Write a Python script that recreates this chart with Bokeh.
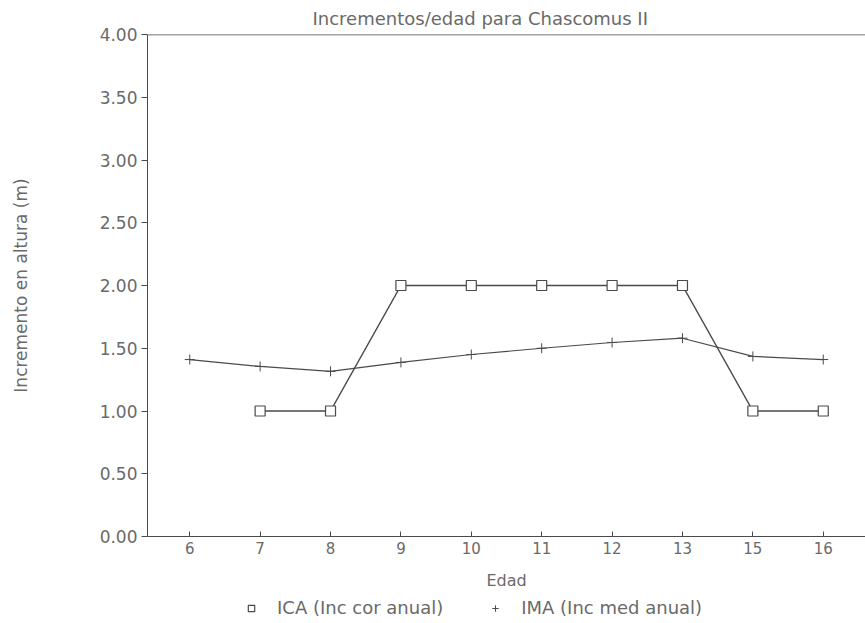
from bokeh.plotting import figure
from bokeh.layouts import column
from bokeh.models import FactorRange, Range1d, FixedTicker, Legend, LegendItem, Span, NumeralTickFormatter
from bokeh.embed import file_html
from bokeh.resources import INLINE

edades = ["6", "7", "8", "9", "10", "11", "12", "13", "15", "16"]
ica_edades = ["7", "8", "9", "10", "11", "12", "13", "15", "16"]
ica = [1.0, 1.0, 2.0, 2.0, 2.0, 2.0, 2.0, 1.0, 1.0]
ima = [1.41, 1.355, 1.316, 1.387, 1.45, 1.50, 1.546, 1.58, 1.435, 1.41]
y_ticks = [0, 0.5, 1.0, 1.5, 2.0, 2.5, 3.0, 3.5, 4.0]

TXT = "#6a6a6a"
LINE = "#4a4a4a"
FONT = "DejaVu Sans"

p = figure(
    frame_width=718, frame_height=502,
    x_range=FactorRange(factors=edades, range_padding=0.02, range_padding_units="percent"),
    y_range=Range1d(0, 4),
    output_backend="svg", toolbar_location=None,
    title="Incrementos/edad para Chascomus II",
    min_border_left=147, min_border_right=0, min_border_top=0, min_border_bottom=60,
)
p.background_fill_color = "white"
p.border_fill_color = "white"
p.outline_line_color = None
p.xgrid.visible = False
p.ygrid.visible = False

p.title.text_font = FONT
p.title.text_font_size = "18px"
p.title.text_font_style = "normal"
p.title.text_color = TXT
p.title.align = "left"
p.title.offset = 165
p.title.standoff = 11

# top border line
p.add_layout(Span(location=4, dimension="width", line_color=LINE, line_width=1.5))

# y axis
p.yaxis.ticker = FixedTicker(ticks=y_ticks)
p.yaxis.formatter = NumeralTickFormatter(format="0.00")
p.yaxis.minor_tick_line_color = None
p.yaxis.major_tick_out = 6
p.yaxis.major_tick_in = 0
p.yaxis.axis_line_color = LINE
p.yaxis.major_tick_line_color = LINE
p.yaxis.major_label_text_font = FONT
p.yaxis.major_label_text_font_size = "17px"
p.yaxis.major_label_text_color = TXT
p.yaxis.major_label_standoff = 4
p.yaxis.axis_label = "Incremento en altura (m)"
p.yaxis.axis_label_text_font = FONT
p.yaxis.axis_label_text_font_size = "17px"
p.yaxis.axis_label_text_font_style = "normal"
p.yaxis.axis_label_text_color = TXT
p.yaxis.axis_label_standoff = 66

# x axis
p.xaxis.axis_line_color = LINE
p.xaxis.major_tick_line_color = LINE
p.xaxis.major_tick_in = 5
p.xaxis.major_tick_out = 0
p.xaxis.major_label_text_font = FONT
p.xaxis.major_label_text_font_size = "15px"
p.xaxis.major_label_text_color = TXT
p.xaxis.major_label_standoff = 5
p.xaxis.axis_label = "Edad"
p.xaxis.axis_label_text_font = FONT
p.xaxis.axis_label_text_font_size = "16px"
p.xaxis.axis_label_text_font_style = "normal"
p.xaxis.axis_label_text_color = TXT
p.xaxis.axis_label_standoff = 14

p.line(ica_edades, ica, line_color=LINE, line_width=1.5)
p.scatter(ica_edades, ica, marker="square", size=10, fill_color="white",
          line_color=LINE, line_width=1.2)
p.line(edades, ima, line_color=LINE, line_width=1.2)
p.scatter(edades, ima, marker="cross", size=10, line_color=LINE, line_width=1)

# legend strip below the chart (its renderers sit outside the visible range)
pl = figure(
    frame_width=718, frame_height=25,
    x_range=Range1d(0, 1), y_range=Range1d(0, 1),
    x_axis_type=None, y_axis_type=None,
    output_backend="svg", toolbar_location=None,
    min_border_left=147, min_border_right=0, min_border_top=0, min_border_bottom=0,
)
pl.outline_line_color = None
pl.background_fill_color = "white"
pl.border_fill_color = "white"
lg_ica = pl.scatter(x=[-10], y=[-10], marker="square", size=9, fill_color="white",
                    line_color=LINE, line_width=1.2)
lg_ima = pl.scatter(x=[-10], y=[-10], marker="cross", size=9, line_color=LINE, line_width=1)

legend = Legend(
    items=[LegendItem(label="ICA (Inc cor anual)", renderers=[lg_ica]),
           LegendItem(label="IMA (Inc med anual)", renderers=[lg_ima])],
    orientation="horizontal", location=(96, 3),
    border_line_color=None, background_fill_alpha=0,
    label_text_font=FONT, label_text_font_size="18px", label_text_color=TXT,
    padding=0, margin=0, spacing=44, glyph_width=16, glyph_height=16, label_standoff=18,
    label_height=16,
)
pl.add_layout(legend, "center")

layout = column(p, pl, spacing=0)

open("out.html", "w").write(file_html(layout, INLINE))
